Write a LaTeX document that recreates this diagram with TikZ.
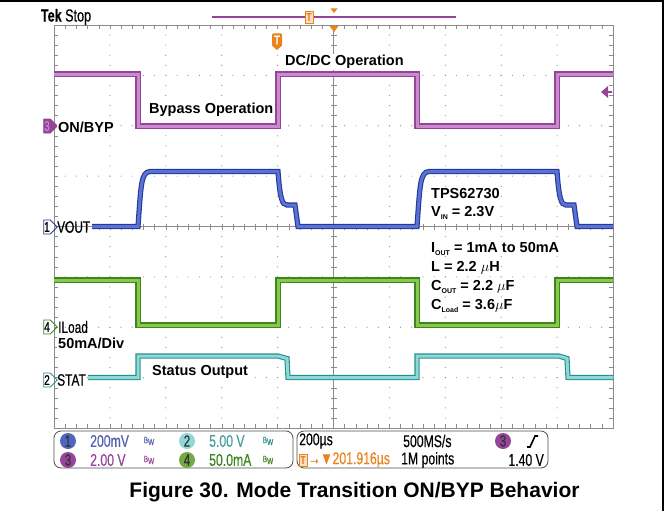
\documentclass[tikz,border=0pt]{standalone}
\usepackage{fontspec}
\setmainfont{Liberation Sans}
\newfontfamily\scopefont[FakeStretch=0.72, FakeBold=0.35]{Liberation Sans}
\usetikzlibrary{shapes.symbols}

\definecolor{tekPurple}{HTML}{95449A}
\definecolor{tekPurpleLt}{HTML}{C98BCB}
\definecolor{tekBlue}{HTML}{26379A}
\definecolor{tekBlueLt}{HTML}{5A72D4}
\definecolor{tekGreen}{HTML}{3C861C}
\definecolor{tekGreenLt}{HTML}{88C84C}
\definecolor{tekCyan}{HTML}{278E8E}
\definecolor{tekCyanLt}{HTML}{8FD8D6}
\definecolor{tekOrange}{HTML}{E8841A}
\definecolor{gridGray}{HTML}{8C8C8C}

\tikzset{
  trace/.style={line width=1.1pt, double distance=3pt},
  purpleTrace/.style={trace, draw=tekPurple, double=tekPurpleLt},
  blueTrace/.style={trace, draw=tekBlue, double=tekBlueLt},
  greenTrace/.style={trace, draw=tekGreen, double=tekGreenLt},
  cyanTrace/.style={trace, draw=tekCyan, double=tekCyanLt},
  noteText/.style={anchor=west, inner sep=1pt, fill=white, font=\bfseries\fontsize{14.5}{17}\selectfont},
  scopeText/.style={anchor=west, inner sep=0pt, font=\scopefont\fontsize{16.5}{17}\selectfont},
  chanTag/.style={signal, signal to=east, draw, line width=0.8pt, inner sep=0.5pt,
                  minimum width=11pt, minimum height=14pt, font=\scopefont\fontsize{14}{14}\selectfont},
  chanDot/.style={circle, inner sep=0pt, minimum size=16pt, text=black!80,
                  font=\scopefont\fontsize{16}{16}\selectfont},
  panelText/.style={anchor=west, inner sep=0pt, font=\scopefont\fontsize{17}{17}\selectfont},
  bwText/.style={inner sep=0pt, font=\scopefont\fontsize{9}{9}\selectfont},
  panelBox/.style={draw=black!70, line width=0.8pt, rounded corners=7pt},
  trigTagBox/.style={draw=tekOrange, fill=tekOrange!25, text=tekOrange, inner sep=0.5pt,
                     minimum width=8pt, minimum height=12pt, font=\scopefont\bfseries\fontsize{11}{11}\selectfont}
}

\begin{document}
\begin{tikzpicture}[x=1pt, y=-1pt]
\useasboundingbox (0,0) rectangle (666,519);

% Frame
\draw[line width=1.2pt] (0,1) -- (663,1) -- (663,511);

% Graticule
\draw[gridGray, line width=0.9pt] (54,25) rectangle (613,428);
\foreach \i in {1,2,3,4,6,7,8,9}
  \foreach \j in {1,...,39}
    \fill[gridGray] ({54+\i*55.9},{25+\j*10.075}) circle (0.6);
\foreach \j in {1,2,3,5,6,7}
  \foreach \i in {1,...,49}
    \fill[gridGray] ({54+\i*11.18},{25+\j*50.375}) circle (0.6);
\draw[gridGray, line width=0.6pt] (333.5,25) -- (333.5,428) (54,226.5) -- (613,226.5);
\foreach \j in {1,...,39} {
  \draw[gridGray] (330.5,{25+\j*10.075}) -- (336.5,{25+\j*10.075});
  \draw[gridGray] (54,{25+\j*10.075}) -- ++(4,0);
  \draw[gridGray] (613,{25+\j*10.075}) -- ++(-4,0);
}
\foreach \i in {1,...,49} {
  \draw[gridGray] ({54+\i*11.18},223.5) -- ({54+\i*11.18},229.5);
  \draw[gridGray] ({54+\i*11.18},25) -- ++(0,4);
  \draw[gridGray] ({54+\i*11.18},428) -- ++(0,-4);
}

% Top status line
\node[inner sep=0pt, font=\scopefont\fontsize{17.5}{17}\selectfont] (tekStop) at (66,17) {\textbf{Tek} Stop};
\coordinate (recL) at (212,17);
\coordinate (recR) at (456,17);
\draw[tekPurple, line width=1.3pt] (recL) -- (recR);
\node[trigTagBox] (trigSmall) at (309,17) {T};
\fill[tekOrange] (330.5,8.5) -- (337.5,8.5) -- (334,13) -- cycle;
\fill[tekOrange] (329.5,26) -- (338.5,26) -- (334,32) -- cycle;
\node[fill=tekOrange, text=white, rounded corners=1pt, inner sep=0.5pt, minimum width=10pt, minimum height=13pt,
      font=\scopefont\bfseries\fontsize{13}{13}\selectfont] (trigPos) at (277,40) {T};
\fill[tekOrange] (272.5,46) -- (281.5,46) -- (277,50) -- cycle;
% trigger level
\fill[tekPurple] (601,92) -- (608,86) -- (608,98) -- cycle;
\draw[tekPurple, line width=2.2pt] (606,92) -- (612,92);

% Traces
\draw[purpleTrace] (54,74) -- (138,74) -- (138,126) -- (278,126) -- (278,74) -- (417,74)
  -- (417,126) -- (557,126) -- (557,74) -- (613,74);
\draw[blueTrace] (92,226.5) -- (138,226.5) .. controls (141,185) and (141,172) .. (150,171.5)
  -- (278,171.5) .. controls (280,198) and (282,205) .. (287,205) -- (295,205) -- (298,226.5)
  -- (417,226.5) .. controls (420,185) and (420,172) .. (429,171.5)
  -- (557,171.5) .. controls (559,198) and (561,205) .. (566,205) -- (574,205) -- (577,226.5) -- (613,226.5);
\draw[greenTrace] (54,280) -- (138,280) -- (138,325) -- (278,325) -- (278,280) -- (417,280)
  -- (417,325) -- (557,325) -- (557,280) -- (613,280);
\draw[cyanTrace] (88,377.5) -- (138,377.5) -- (138,356) -- (278,356) -- (287,358.5) -- (288,377.5)
  -- (417,377.5) -- (417,356) -- (559,356) -- (567,358.5) -- (568,377.5) -- (613,377.5);

% Channel tags
\node[chanTag, draw=tekPurple, fill=tekPurple, text=tekPurpleLt] (tag3) at (47,126) {3};
\node[chanTag, draw=tekBlue] (tag1) at (47,227) {1};
\node[chanTag, draw=tekGreen] (tag4) at (47,327) {4};
\node[chanTag, draw=tekCyan] (tag2) at (47,380) {2};
\node[scopeText] (vout) at (57,227) {VOUT};
\node[scopeText] (iload) at (58,327) {ILoad};
\node[scopeText] (stat) at (57,380) {STAT};

% Notes
\node[noteText] (dcdc) at (284,62) {DC/DC Operation};
\node[noteText] (bypass) at (148,110) {Bypass Operation};
\node[noteText] (onbyp) at (57,127) {ON/BYP};
\node[noteText] (divLoad) at (57,343) {50mA/Div};
\node[noteText] (status) at (151,372) {Status Output};
\node[noteText] (part) at (430,194) {TPS62730};
\node[noteText] (vin) at (430,213) {V\raisebox{-0.35ex}{\fontsize{7}{7}\selectfont IN} = 2.3V};
\node[noteText] (iout) at (430,249) {I\raisebox{-0.35ex}{\fontsize{7}{7}\selectfont OUT} = 1mA to 50mA};
\node[noteText] (ind) at (430,268) {L = 2.2 $\mu$H};
\node[noteText] (cout) at (430,287) {C\raisebox{-0.35ex}{\fontsize{7}{7}\selectfont OUT} = 2.2 $\mu$F};
\node[noteText] (cload) at (430,306) {C\raisebox{-0.35ex}{\fontsize{7}{7}\selectfont Load} = 3.6$\mu$F};

% Readout panel
\draw[panelBox] (54,431) rectangle (293,468);
\draw[panelBox] (297,431) rectangle (548,468);
\node[chanDot, fill=tekBlueLt!90!black] (dot1) at (68,441) {1};
\node[chanDot, fill=tekPurple] (dot3) at (68,460) {3};
\node[chanDot, fill=tekCyanLt] (dot2) at (187,441) {2};
\node[chanDot, fill=tekGreenLt!85!black] (dot4) at (187,460) {4};
\node[panelText, text=tekBlue!80!white] (scale1) at (90,441) {200mV};
\node[panelText, text=tekPurple] (scale3) at (90,460) {2.00 V};
\node[panelText, text=tekCyan!85!white] (scale2) at (209,441) {5.00 V};
\node[panelText, text=tekGreen] (scale4) at (209,460) {50.0mA};
\node[bwText, text=tekBlue!80!white] (bw1) at (149,441) {B\raisebox{-2pt}{W}};
\node[bwText, text=tekPurple] (bw3) at (149,460) {B\raisebox{-2pt}{W}};
\node[bwText, text=tekCyan] (bw2) at (268,441) {B\raisebox{-2pt}{W}};
\node[bwText, text=tekGreen] (bw4) at (268,460) {B\raisebox{-2pt}{W}};
\node[panelText] (timeDiv) at (299,441) {200µs};
\node[trigTagBox] (trigTag) at (303,460) {T};
\node[panelText, text=tekOrange] (delay) at (308,460) {→▼201.916µs};
\node[panelText] (rate) at (403,441) {500MS/s};
\node[panelText] (points) at (401,460) {1M points};
\node[chanDot, fill=tekPurple] (dotTrig) at (503,441) {3};
\draw[line width=1.6pt] (527,447) -- (530,447) -- (535,436) -- (538,436);
\node[panelText, anchor=east] (level) at (544,460) {1.40 V};

% Caption
\node[inner sep=0pt, font=\bfseries\fontsize{21}{23}\selectfont] (caption) at (354.5,492)
  {Figure 30. Mode Transition ON/BYP Behavior};

\end{tikzpicture}
\end{document}
